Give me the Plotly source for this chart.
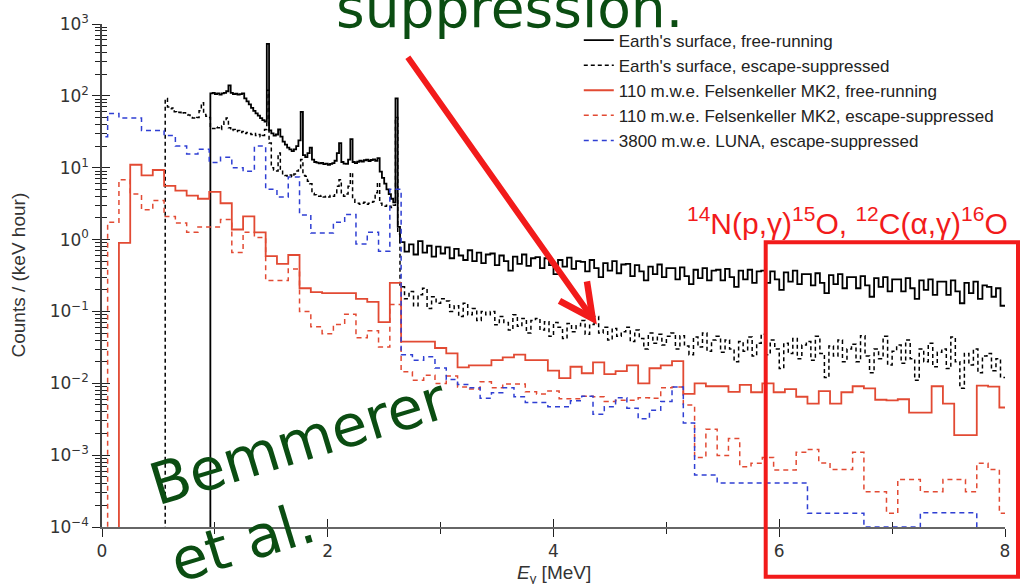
import numpy as np
import plotly.graph_objects as go

# ---------------------------------------------------------------------------
# Spectra, counts / (keV hour).  Each series is a step histogram described by
# the low edge of its first bin, the bin width [MeV] and the bin contents.
# ---------------------------------------------------------------------------

# Earth's surface, free-running: fine binning below 2.64 MeV, coarser above
surf_free_lo_start, surf_free_lo_width = 0.96, 0.02
surf_free_lo = [
    108, 110, 106, 108, 104, 108, 110, 116, 140, 110,
    106, 107, 104, 106, 108, 92, 84, 76, 68, 62,
    57, 53, 49, 46, 44, 530, 33, 30, 28, 29,
    34, 27, 23, 21, 19, 18, 17, 18, 20, 24,
    60, 15, 14, 16, 19, 13, 12, 11.8, 11.5, 11.7,
    11.2, 11.4, 11.0, 11.3, 11.6, 12.5, 16, 22, 12, 11.4,
    11.3, 13, 25, 12, 11.6, 12.1, 12.5, 12.2, 12.7, 12.9,
    12.4, 12.8, 13.1, 12.5, 13.6, 8.8, 7.2, 6.0, 5.0, 4.3,
    3.7, 3.3, 92, 1.5,
]
surf_free_hi_start, surf_free_hi_width = 2.64, 0.04
surf_free_hi = [
    0.92, 0.68, 0.86, 0.62, 0.95, 0.66, 0.82, 0.58, 0.80, 0.64,
    0.78, 0.55, 0.74, 0.60, 0.52, 0.71, 0.50, 0.66, 0.47, 0.62,
    0.64, 0.44, 0.60, 0.50, 0.37, 0.58, 0.46, 0.62, 0.43, 0.55,
    0.57, 0.40, 0.55, 0.44, 0.33, 0.52, 0.42, 0.56, 0.39, 0.50,
    0.49, 0.36, 0.52, 0.40, 0.30, 0.47, 0.37, 0.50, 0.34, 0.45,
    0.46, 0.31, 0.44, 0.36, 0.27, 0.42, 0.33, 0.45, 0.30, 0.40,
    0.40, 0.28, 0.41, 0.31, 0.24, 0.38, 0.29, 0.40, 0.27, 0.37,
    0.38, 0.27, 0.39, 0.30, 0.22, 0.37, 0.28, 0.38, 0.25, 0.36,
    0.37, 0.25, 0.36, 0.28, 0.20, 0.35, 0.26, 0.37, 0.24, 0.33,
    0.33, 0.23, 0.34, 0.25, 0.18, 0.32, 0.24, 0.33, 0.21, 0.30,
    0.30, 0.21, 0.31, 0.23, 0.16, 0.29, 0.22, 0.30, 0.19, 0.28,
    0.28, 0.19, 0.29, 0.21, 0.15, 0.27, 0.20, 0.28, 0.17, 0.26,
    0.26, 0.17, 0.27, 0.19, 0.13, 0.25, 0.18, 0.26, 0.15, 0.23,
    0.22, 0.16, 0.21, 0.12,
]

# Earth's surface, escape-suppressed
surf_supp_lo_start, surf_supp_lo_width = 0.56, 0.02
surf_supp_lo = [
    92, 70, 66, 68, 60, 58, 59, 56, 58, 55,
    54, 50, 49, 48, 50, 62, 80, 55, 52, 50,
    36, 35, 37, 36, 34, 38, 44, 49, 36, 33,
    34, 32, 33, 31, 32, 30, 31, 30, 29, 30,
    28, 29, 27, 28, 34, 120, 22, 10, 9.3, 9.0,
    16, 9.5, 8.0, 7.8, 7.6, 7.9, 7.5, 8.2, 9.0, 10,
    13, 7.8, 7.6, 6.5, 6.0, 4.4, 4.2, 4.1, 4.0, 4.1,
    3.9, 4.0, 3.9, 4.1, 4.0, 4.5, 5.5, 6.8, 4.2, 4.0,
    4.3, 5.5, 8.5, 3.6, 3.3, 3.2, 3.1, 3.2, 3.3, 3.1,
    3.2, 3.3, 3.4, 4.5, 6.2, 3.2, 3.0, 2.9, 3.0, 2.9,
    2.8, 3.0, 50, 1.2,
]
surf_supp_hi_start, surf_supp_hi_width = 2.64, 0.04
surf_supp_hi = [
    0.22, 0.15, 0.19, 0.12, 0.17, 0.21, 0.11, 0.16, 0.13, 0.15,
    0.14, 0.10, 0.12, 0.085, 0.13, 0.09, 0.11, 0.075, 0.10, 0.09,
    0.10, 0.065, 0.085, 0.07, 0.055, 0.09, 0.062, 0.08, 0.05, 0.075,
    0.08, 0.055, 0.072, 0.045, 0.07, 0.06, 0.042, 0.068, 0.052, 0.063,
    0.075, 0.048, 0.066, 0.085, 0.05, 0.06, 0.04, 0.058, 0.045, 0.052,
    0.06, 0.038, 0.055, 0.042, 0.03, 0.05, 0.036, 0.048, 0.034, 0.045,
    0.05, 0.03, 0.046, 0.033, 0.025, 0.044, 0.032, 0.05, 0.028, 0.04,
    0.045, 0.027, 0.04, 0.03, 0.02, 0.038, 0.028, 0.044, 0.024, 0.036,
    0.048, 0.025, 0.04, 0.03, 0.016, 0.036, 0.026, 0.042, 0.022, 0.034,
    0.038, 0.021, 0.045, 0.026, 0.012, 0.033, 0.024, 0.04, 0.02, 0.03,
    0.035, 0.02, 0.046, 0.024, 0.014, 0.03, 0.022, 0.045, 0.018, 0.028,
    0.034, 0.019, 0.04, 0.022, 0.011, 0.03, 0.02, 0.036, 0.017, 0.027,
    0.03, 0.016, 0.044, 0.02, 0.0085, 0.026, 0.018, 0.03, 0.014, 0.024,
    0.026, 0.015, 0.022, 0.012,
]

# 110 m.w.e. Felsenkeller MK2, free-running (100 keV bins)
mk2_free_start, mk2_free_width = 0.15, 0.1
mk2_free = [
    0.9, 11, 7.8, 9.3, 5.6, 4.8, 4.1, 3.7, 4.6, 3.2,
    1.38, 2.1, 1.26, 0.59, 0.46, 0.61, 0.21, 0.186, 0.18, 0.18,
    0.18, 0.15, 0.136, 0.071, 0.25, 0.038, 0.038, 0.038, 0.031, 0.026,
    0.0166, 0.0177, 0.0177, 0.021, 0.023, 0.025, 0.021, 0.021, 0.015, 0.0118,
    0.017, 0.0138, 0.0195, 0.0134, 0.0148, 0.0177, 0.0100, 0.0162, 0.0177, 0.0204,
    0.0071, 0.0100, 0.0091, 0.0091, 0.0076, 0.0095, 0.0075, 0.0100, 0.0075, 0.0083,
    0.0065, 0.0052, 0.0078, 0.0052, 0.0075, 0.0091, 0.0085, 0.0059, 0.0058, 0.006,
    0.0039, 0.0039, 0.0091, 0.0052, 0.0019, 0.0019, 0.0093, 0.009, 0.0046,
]

# 110 m.w.e. Felsenkeller MK2, escape-suppressed (100 keV bins)
mk2_supp_start, mk2_supp_width = 0.05, 0.1
mk2_supp = [
    1.74, 6.8, 4.3, 2.6, 3.5, 2.1, 1.7, 1.26, 1.5, 1.5,
    1.9, 0.66, 1.26, 1.07, 0.27, 0.27, 0.39, 0.10, 0.061, 0.049,
    0.066, 0.091, 0.043, 0.054, 0.032, 0.125, 0.0145, 0.011, 0.0129, 0.0099,
    0.0126, 0.0089, 0.0083, 0.0105, 0.0087, 0.0098, 0.0098, 0.0076, 0.0071, 0.0078,
    0.0061, 0.0061, 0.0066, 0.0065, 0.0056, 0.0058, 0.0058, 0.0063, 0.0062, 0.0087,
    0.0089, 0.0050, 0.00093, 0.0023, 0.00099, 0.0017, 0.00069, 0.00077, 0.00093, 0.00062,
    0.00062, 0.0011, 0.0012, 0.00078, 0.00063, 0.00063, 0.0011, 0.00031, 0.00031, 0.000155,
    0.00046, 0.00046, 0.00031, 0.00031, 0.00046, 0.00046, 0.00031, 0.00077, 0.00063, 0.000155,
]

# 3800 m.w.e. LUNA, escape-suppressed (100 keV bins)
luna_supp_start, luna_supp_width = -0.05, 0.1
luna_supp = [
    27, 57, 49, 49, 33, 33, 28, 20, 15.5, 18,
    11.8, 14, 10, 8.9, 20, 5.0, 3.9, 7.4, 2.2, 1.23,
    1.23, 1.74, 2.24, 0.87, 1.26, 0.69, 5.0, 0.025, 0.021, 0.0234,
    0.0163, 0.0113, 0.0096, 0.0087, 0.0062, 0.0074, 0.0087, 0.0065, 0.0054, 0.0054,
    0.0047, 0.0047, 0.0057, 0.0066, 0.0037, 0.0047, 0.0063, 0.0045, 0.0032, 0.0042,
    0.0056, 0.0089, 0.0028, 0.00053, 0.00053, 0.00041, 0.00041, 0.00041, 0.00041, 0.00041,
    0.00041, 0.00041, 0.00041, 0.000155, 0.000155, 0.000155, 0.000155, 0.000155, 0.0001, 0.0001,
    0.0001, 0.0001, 0.0001, 0.000158, 0.000158, 0.000158, 0.000158, 0.000158, 0.00001, 0.00001,
    0.00001,
]

FLOOR = 1e-6  # below the plotted range: the spectrum rises from the axis


def steps(start, width, values):
    """Edges and heights of a histogram drawn with line shape 'hv'."""
    edges = start + width * np.arange(len(values) + 1)
    return list(np.round(edges, 4)), list(values) + [values[-1]]


def spectrum(segments, from_floor=True):
    xs, ys = [], []
    for start, width, values in segments:
        ex, ey = steps(start, width, values)
        xs += ex
        ys += ey
    if from_floor:
        xs = [xs[0]] + xs
        ys = [FLOOR] + ys
    return xs, ys


BLACK = "#000000"
RED = "#e24a33"
BLUE = "#2f3fd3"

series = [
    ("Earth's surface, free-running",
     [(surf_free_lo_start, surf_free_lo_width, surf_free_lo),
      (surf_free_hi_start, surf_free_hi_width, surf_free_hi)],
     dict(color=BLACK, width=1.8, dash="solid"), True),
    ("Earth's surface, escape-suppressed",
     [(surf_supp_lo_start, surf_supp_lo_width, surf_supp_lo),
      (surf_supp_hi_start, surf_supp_hi_width, surf_supp_hi)],
     dict(color=BLACK, width=1.5, dash="4px,3px"), True),
    ("110 m.w.e. Felsenkeller MK2, free-running",
     [(mk2_free_start, mk2_free_width, mk2_free)],
     dict(color=RED, width=1.8, dash="solid"), True),
    ("110 m.w.e. Felsenkeller MK2, escape-suppressed",
     [(mk2_supp_start, mk2_supp_width, mk2_supp)],
     dict(color=RED, width=1.5, dash="5px,4px"), True),
    ("3800 m.w.e. LUNA, escape-suppressed",
     [(luna_supp_start, luna_supp_width, luna_supp)],
     dict(color=BLUE, width=1.5, dash="5px,4px"), False),
]

fig = go.Figure()
for name, segs, line, floor in series:
    x, y = spectrum(segs, floor)
    fig.add_trace(go.Scatter(x=x, y=y, mode="lines", name=name,
                             line=dict(shape="hv", **line)))

# companion axes that carry the inward half of each tick mark
fig.add_trace(go.Scatter(x=[None], y=[None], xaxis="x2", yaxis="y2",
                         showlegend=False, hoverinfo="skip"))

decades = [-4, -3, -2, -1, 0, 1, 2, 3]
ytickvals = [10.0 ** d for d in decades]
yticktext = ["10<sup>%s</sup>" % (str(d).replace("-", "\u2212")) for d in decades]

tick_font = dict(family="DejaVu Sans", size=17, color="#333333")
axis_common = dict(showgrid=False, zeroline=False, tickcolor="#222222", tickwidth=1.2)

fig.update_layout(
    width=1023, height=584, autosize=False,
    margin=dict(l=102, r=18, t=20, b=57),
    paper_bgcolor="white", plot_bgcolor="white",
    showlegend=True,
    legend=dict(x=0.528, y=1.003, xanchor="left", yanchor="top",
                bgcolor="rgba(0,0,0,0)", borderwidth=0,
                font=dict(family="Liberation Sans", size=17, color="#222222")),
    xaxis=dict(range=[0, 8], showline=True, linecolor="#666666", linewidth=1.5,
               ticks="outside", ticklen=8, tick0=0, dtick=2,
               minor=dict(ticks="outside", ticklen=5, dtick=1, tickcolor="#222222"),
               tickfont=tick_font, **axis_common),
    yaxis=dict(type="log", range=[-4, 3], showline=True, linecolor="#444444",
               linewidth=1.5, ticks="outside", ticklen=8,
               tickvals=ytickvals, ticktext=yticktext,
               minor=dict(ticks="outside", ticklen=5, dtick="D1", tickcolor="#222222"),
               tickfont=tick_font, **axis_common),
    xaxis2=dict(overlaying="x", anchor="y2", range=[0, 8], ticks="inside",
                ticklen=8, tick0=0, dtick=2, showticklabels=False, showline=False,
                minor=dict(ticks="inside", ticklen=5, dtick=1, tickcolor="#222222"),
                **axis_common),
    yaxis2=dict(overlaying="y", anchor="x2", type="log", range=[-4, 3],
                ticks="inside", ticklen=8, tickvals=ytickvals,
                showticklabels=False, showline=False,
                minor=dict(ticks="inside", ticklen=5, dtick="D1", tickcolor="#222222"),
                **axis_common),
)

GREEN = "#0b4d12"
ALERT = "#f21b1b"

# arrow from the remark down to the suppressed continuum (energy, log10 counts)
arrow_tail = (2.70, 2.558)
arrow_tip = (4.384, -1.183)

centered = dict(xanchor="center", yanchor="middle", showarrow=False)

annotations = [
    # axis titles
    dict(text="Counts / (keV hour)", xref="paper", yref="paper", x=-0.093, y=0.5,
         textangle=-90, font=dict(family="Liberation Sans", size=19, color="#333333"),
         **centered),
    dict(text="<i>E</i><sub>\u03b3</sub> [MeV]", xref="paper", yref="paper",
         x=0.5, y=-0.0927,
         font=dict(family="Liberation Sans", size=19, color="#333333"), **centered),
    # reaction label above the region of interest
    dict(text="<sup>14</sup>N(p,\u03b3)<sup>15</sup>O, <sup>12</sup>C(\u03b1,\u03b3)<sup>16</sup>O",
         xref="paper", yref="paper", x=0.826, y=0.609,
         font=dict(family="Liberation Sans", size=30, color=ALERT), **centered),
    # hand-written remarks
    dict(text="suppression.", xref="paper", yref="paper", x=0.451, y=1.0986,
         xanchor="center", yanchor="top", showarrow=False,
         font=dict(family="DejaVu Sans", size=55, color=GREEN)),
    dict(text="Bemmerer", xref="paper", yref="paper", x=0.217, y=0.168,
         textangle=-17, font=dict(family="DejaVu Sans", size=58, color=GREEN),
         **centered),
    dict(text="et al.", xref="paper", yref="paper", x=0.156, y=-0.029,
         textangle=-17, font=dict(family="DejaVu Sans", size=58, color=GREEN),
         **centered),
    dict(text="", xref="x", yref="y", x=arrow_tip[0], y=arrow_tip[1],
         axref="x", ayref="y", ax=arrow_tail[0], ay=arrow_tail[1],
         showarrow=True, arrowhead=5, arrowsize=1.1, arrowwidth=6,
         arrowcolor=ALERT, standoff=0),
]
fig.update_layout(annotations=annotations)

# frame around the high-energy region of interest
fig.add_shape(type="rect", xref="paper", yref="paper",
              x0=0.735, x1=1.0144, y0=-0.099, y1=0.566,
              line=dict(color=ALERT, width=4), fillcolor="rgba(0,0,0,0)")

fig.write_html("out.html")
